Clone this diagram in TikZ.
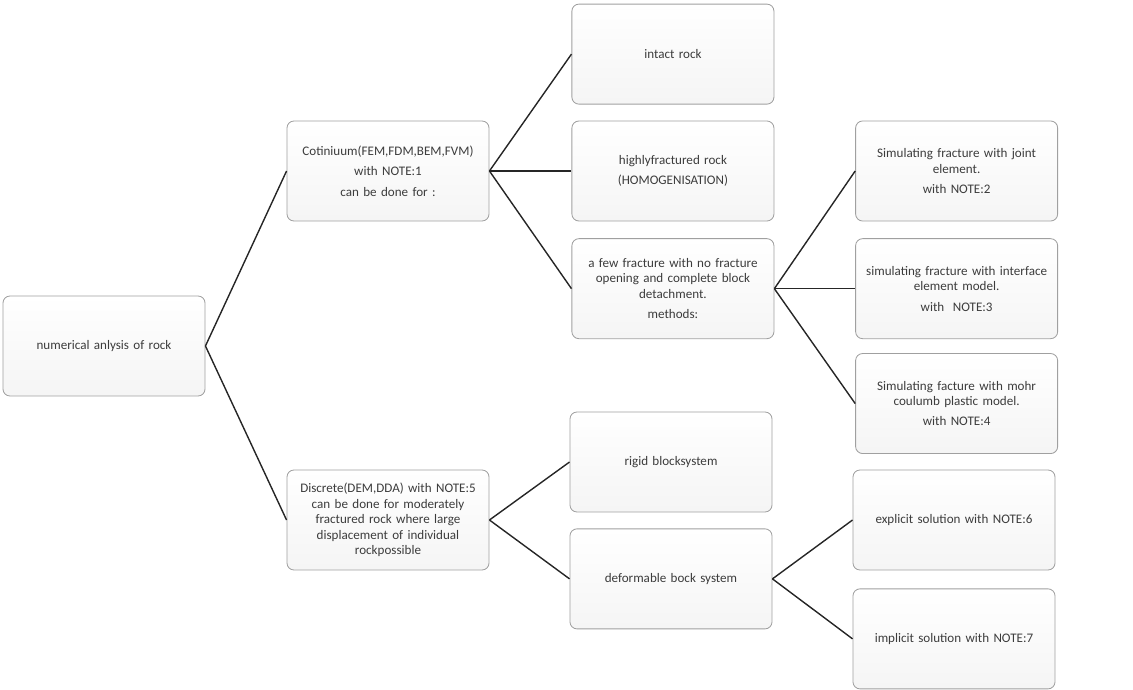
\documentclass[tikz,border=0pt]{standalone}
\usepackage{fontspec}
\setmainfont{Carlito}
\usepackage{xcolor}
\usetikzlibrary{positioning}
\definecolor{BoxLine}{RGB}{160,160,160}
\definecolor{BoxText}{RGB}{60,60,60}

\begin{document}
\begin{tikzpicture}[
            x=0.025cm, y=-0.025cm,
            rockbox/.style={
                draw=BoxLine, rounded corners=5pt, line width=0.6pt,
                top color=white, bottom color=gray!8,
                minimum width=5.05cm, minimum height=2.5cm,
                text width=4.75cm, inner xsep=4pt, align=center, text=BoxText,
                font=\fontsize{9.3}{11}\selectfont
            },
            link/.style={line width=1pt, black!85}
        ]
            \useasboundingbox (0,0) rectangle (1133,690);

            % Root node
            \node[rockbox] (root) at (104,346) {numerical anlysis of rock};

            % Continuum branch
            \node[rockbox] (cont) at (388,171) {
                Cotiniuum(FEM,FDM,BEM,FVM)\\[3.5pt]
                with NOTE:1\\[3.5pt]
                can be done for :
            };
            \node[rockbox, right=2.05cm of cont] (frac) {
                highlyfractured rock\\[3.5pt]
                (HOMOGENISATION)
            };
            \node[rockbox, above=0.4cm of frac] (intact) {intact rock};
            \node[rockbox, below=0.42cm of frac] (few) {
                a few fracture with no fracture\\
                opening and complete block\\
                detachment.\\[3.5pt]
                methods:
            };

            % Methods for a few fractures
            \node[rockbox, right=2.02cm of frac] (joint) {
                Simulating fracture with joint\\
                element.\\[3.5pt]
                with NOTE:2
            };
            \node[rockbox, right=2.02cm of few] (iface) {
                simulating fracture with interface\\
                element model.\\[3.5pt]
                with~~NOTE:3
            };
            \node[rockbox, below=0.35cm of iface] (mohr) {
                Simulating facture with mohr\\
                coulumb plastic model.\\[3.5pt]
                with NOTE:4
            };

            % Discrete branch
            \node[rockbox] (disc) at (388,520) {
                Discrete(DEM,DDA) with NOTE:5\\
                can be done for moderately\\
                fractured rock where large\\
                displacement of individual\\
                rockpossible
            };
            \node[rockbox] (rigid) at (671,462) {rigid blocksystem};
            \node[rockbox, below=0.4cm of rigid] (deform) {deformable bock system};
            \node[rockbox] (expl) at (954,520) {explicit solution with NOTE:6};
            \node[rockbox, below=0.45cm of expl] (impl) {implicit solution with NOTE:7};

            % Connectors
            \draw[link] (root.east) -- (cont.west);
            \draw[link] (root.east) -- (disc.west);
            \draw[link] (cont.east) -- (intact.west);
            \draw[link] (cont.east) -- (frac.west);
            \draw[link] (cont.east) -- (few.west);
            \draw[link] (few.east) -- (joint.west);
            \draw[link] (few.east) -- (iface.west);
            \draw[link] (few.east) -- (mohr.west);
            \draw[link] (disc.east) -- (rigid.west);
            \draw[link] (disc.east) -- (deform.west);
            \draw[link] (deform.east) -- (expl.west);
            \draw[link] (deform.east) -- (impl.west);
        \end{tikzpicture}
\end{document}
